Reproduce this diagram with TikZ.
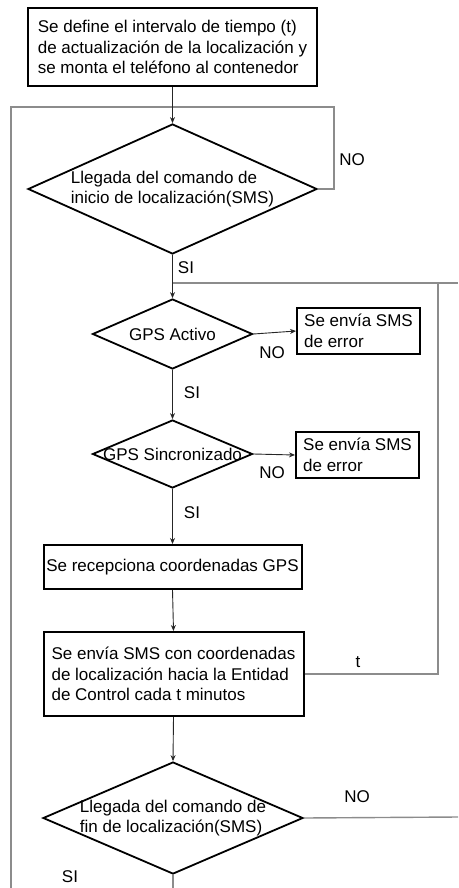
\documentclass[tikz,border=0pt]{standalone}
\usepackage{fontspec}
\setmainfont{Liberation Sans}
\usetikzlibrary{shapes.geometric,arrows.meta}
\definecolor{loopgray}{HTML}{8C8C8C}
\begin{document}
\begin{tikzpicture}[x=1pt,y=-1pt,
  every node/.style={font=\fontsize{17}{20.5}\selectfont},
  box/.style={draw,line width=2pt,inner sep=0pt,align=left},
  dec/.style={draw,diamond,line width=1.8pt,inner sep=0pt},
  conn/.style={draw=black!85,line width=0.9pt,-{Stealth[length=6pt,width=5pt]}},
  back/.style={draw=loopgray,line width=1.4pt},
  lbl/.style={inner sep=0pt}]
\useasboundingbox (0,0) rectangle (458,888);

\node[box,minimum width=289,minimum height=78] (top) at (172.5,47)
  {Se define el intervalo de tiempo (t)\\de actualización de la localización y\\se monta el teléfono al contenedor};

\node[dec,minimum width=289,minimum height=130,
  label={[align=left,inner sep=0pt]center:Llegada del comando de\\inicio de localización(SMS)}] (d1) at (172.5,189) {};

\node[dec,minimum width=160,minimum height=70,
  label={[inner sep=0pt]center:GPS Activo}] (d2) at (172.5,334) {};
\node[box,minimum width=123,minimum height=46] (e1) at (358.5,331) {Se envía SMS\\de error};

\node[dec,minimum width=160,minimum height=68,
  label={[inner sep=0pt]center:GPS Sincronizado}] (d3) at (172.5,454) {};
\node[box,minimum width=123,minimum height=46] (e2) at (357.5,455) {Se envía SMS\\de error};

\node[box,minimum width=258,minimum height=44] (b3) at (172.5,567) {Se recepciona coordenadas GPS};

\node[box,minimum width=260,minimum height=84] (b4) at (173.5,674)
  {Se envía SMS con coordenadas\\de localización hacia la Entidad\\de Control cada t minutos};

\node[dec,minimum width=260,minimum height=112,
  label={[align=left,inner sep=0pt]center:Llegada del comando de\\fin de localización(SMS)}] (d5) at (173,818) {};

% loop coordinates
\coordinate (nA) at (334,107);
\coordinate (nB) at (11,888);
\coordinate (j1) at (172.5,283);
\coordinate (nD) at (438,283);
\coordinate (nE) at (458,283);
\coordinate (nF) at (458,817);
\coordinate (nG) at (173,888);

% gray return lines
\draw[back] (d1.east) -| (nA) -| (nB);
\draw[back] (j1) -- (nE);
\draw[back] (b4.east) -| (nD);
\draw[back] (d5.east) -- (nF);
\draw[back] (d5.south) -- (nG);

% main connectors
\draw[conn] (top.south) -- (d1.north);
\draw[conn] (d1.south) -- (d2.north);
\draw[conn] (d2.east) -- (e1.west);
\draw[conn] (d2.south) -- (d3.north);
\draw[conn] (d3.east) -- (e2.west);
\draw[conn] (d3.south) -- (b3.north);
\draw[conn] (b3.south) -- (b4.north);
\draw[conn] (b4.south) -- (d5.north);

% labels
\node[lbl] (l1) at (352,160) {NO};
\node[lbl] (l2) at (186,268) {SI};
\node[lbl] (l3) at (272,353) {NO};
\node[lbl] (l4) at (192,393) {SI};
\node[lbl] (l5) at (272,473) {NO};
\node[lbl] (l6) at (192,513) {SI};
\node[lbl] (l7) at (358,662) {t};
\node[lbl] (l8) at (357,797) {NO};
\node[lbl] (l9) at (70,877) {SI};
\end{tikzpicture}
\end{document}
